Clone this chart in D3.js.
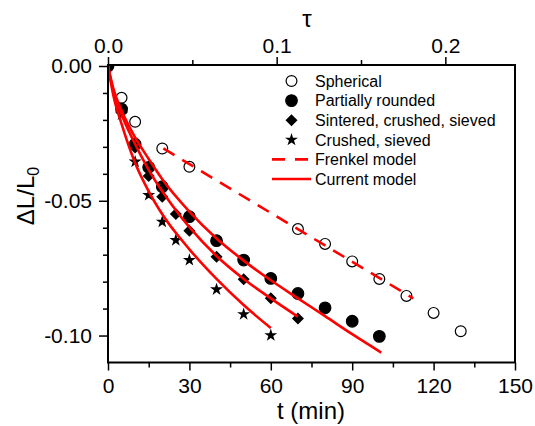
<!DOCTYPE html>
<html>
<head>
<meta charset="utf-8">
<script src="https://cdn.jsdelivr.net/npm/d3@7"></script>
<style>
    body { margin: 0; background: #fff; }
    svg text { font-family: "Liberation Sans", Arial, sans-serif; fill: #000; }
</style>
</head>
<body>
<div id="chart"></div>
<script>
    // measured points, t in minutes, dL/L0
    var sphericalT = [0, 5, 10, 20, 30, 70, 80, 90, 100, 110, 120, 130];
    var sphericalV = [0, -0.0118, -0.0207, -0.0306, -0.0374, -0.0605, -0.0660, -0.0725, -0.0790, -0.0853, -0.0916, -0.0984];

    var roundedT = [0, 5, 10, 15, 20, 30, 40, 50, 60, 70, 80, 90, 100];
    var roundedV = [0, -0.0160, -0.0290, -0.0376, -0.0448, -0.0559, -0.0648, -0.0720, -0.0788, -0.0844, -0.0897, -0.0947, -0.1003];

    var sinteredT = [0, 5, 10, 15, 20, 25, 30, 40, 50, 60, 70];
    var sinteredV = [0, -0.0170, -0.0302, -0.0408, -0.0485, -0.0549, -0.0611, -0.0708, -0.0791, -0.0862, -0.0937];

    var crushedT = [0, 5, 10, 15, 20, 25, 30, 40, 50, 60];
    var crushedV = [0, -0.0180, -0.0355, -0.0479, -0.0578, -0.0646, -0.0720, -0.0829, -0.0921, -0.0999];

    // model curves
    var frenkelT = [20.4, 112.5];
    var frenkelV = [-0.0306, -0.0862];

    var model1T = [0, 2, 5, 10, 15, 20, 30, 40, 50, 60, 70, 80, 90, 100.7];
    var model1V = [0, -0.0085, -0.0165, -0.0265, -0.0345, -0.0420, -0.0540, -0.0640, -0.0722, -0.0795, -0.0862, -0.0928, -0.0995, -0.1063];

    var model2T = [0, 2, 5, 10, 15, 20, 25, 30, 40, 50, 60, 70];
    var model2V = [0, -0.0095, -0.0180, -0.0290, -0.0385, -0.0465, -0.0535, -0.0598, -0.0705, -0.0790, -0.0862, -0.0930];

    var model3T = [0, 2, 5, 10, 15, 20, 30, 40, 50, 60];
    var model3V = [0, -0.0110, -0.0215, -0.0360, -0.0465, -0.0550, -0.0680, -0.0790, -0.0887, -0.0972];

    var xTicks = [0, 30, 60, 90, 120, 150];
    var xMinor = [15, 45, 75, 105, 135];
    var yTicks = [0, -0.05, -0.10];
    var yMinor = [-0.01, -0.02, -0.03, -0.04, -0.06, -0.07, -0.08, -0.09];
    var tauTicks = [0, 0.1, 0.2];
    var tauMinor = [0.05, 0.15];

    var legendLabels = ["Spherical", "Partially rounded", "Sintered, crushed, sieved", "Crushed, sieved", "Frenkel model", "Current model"];

(function() {
    var W = 535, H = 426;
    var pLeft = 108, pRight = 515, pTop = 66, pBottom = 362.5;
    var red = "#ff0000";

    var x = d3.scaleLinear().domain([0, 150]).range([pLeft, pRight]);
    var y = d3.scaleLinear().domain([-0.11, 0]).range([pBottom, pTop]);
    var tau = d3.scaleLinear().domain([0, 0.2413]).range([pLeft, pRight]);

    var svg = d3.select("#chart").append("svg")
        .attr("width", W).attr("height", H);

    svg.append("clipPath").attr("id", "plot-clip")
        .append("rect").attr("x", pLeft).attr("y", pTop)
        .attr("width", pRight - pLeft).attr("height", pBottom - pTop);

    function zip(ts, vs) {
        return ts.map(function(t, i) { return [t, vs[i]]; });
    }

    function axisGroup(axis, tx, ty) {
        var g = svg.append("g").attr("transform", "translate(" + tx + "," + ty + ")").call(axis);
        g.select(".domain").remove();
        g.selectAll(".tick line").attr("stroke", "#000").attr("stroke-width", 1.5);
        g.selectAll(".tick text").style("font-size", "21px").attr("fill", "#000");
        return g;
    }

    // bottom
    axisGroup(d3.axisBottom(x).tickValues(xTicks).tickSize(8).tickPadding(8).tickFormat(d3.format("d")), 0, pBottom);
    axisGroup(d3.axisBottom(x).tickValues(xMinor).tickSize(5).tickFormat(""), 0, pBottom);
    // left
    axisGroup(d3.axisLeft(y).tickValues(yTicks).tickSize(9).tickPadding(7).tickFormat(function(d) { return d.toFixed(2); }), pLeft, 0);
    axisGroup(d3.axisLeft(y).tickValues(yMinor).tickSize(5).tickFormat(""), pLeft, 0);
    // top
    axisGroup(d3.axisTop(tau).tickValues(tauTicks).tickSize(8).tickPadding(4).tickFormat(d3.format(".1f")), 0, pTop - 1);
    axisGroup(d3.axisTop(tau).tickValues(tauMinor).tickSize(5).tickFormat(""), 0, pTop - 1);

    // axis titles
    svg.append("text").attr("x", 311).attr("y", 419)
        .attr("text-anchor", "middle").style("font-size", "24px").text("t (min)");
    svg.append("text").attr("x", 307).attr("y", 27)
        .attr("text-anchor", "middle").style("font-size", "24px").text("\u03c4");
    var yt = svg.append("text")
        .attr("transform", "translate(34,196) rotate(-90)")
        .attr("text-anchor", "middle").style("font-size", "24px");
    yt.append("tspan").text("\u0394L/L");
    yt.append("tspan").attr("dy", 5).style("font-size", "16px").text("0");

    // markers
    var star = d3.symbol().type(d3.symbolStar).size(52);
    var square = d3.symbol().type(d3.symbolSquare).size(72);
    var marks = svg.append("g").attr("clip-path", "url(#plot-clip)");

    function drawCircles(data, filled, r) {
        marks.append("g").selectAll("circle").data(data).enter().append("circle")
            .attr("cx", function(d) { return x(d[0]); })
            .attr("cy", function(d) { return y(d[1]); })
            .attr("r", r)
            .attr("fill", filled ? "#000" : "none")
            .attr("stroke", "#000").attr("stroke-width", 1.2);
    }
    function drawPaths(data, gen, rot) {
        marks.append("g").selectAll("path").data(data).enter().append("path")
            .attr("d", gen)
            .attr("transform", function(d) { return "translate(" + x(d[0]) + "," + y(d[1]) + ") rotate(" + rot + ")"; })
            .attr("fill", "#000");
    }

    drawCircles(zip(sphericalT, sphericalV), false, 5.4);
    drawCircles(zip(roundedT, roundedV), true, 5.8);
    drawPaths(zip(sinteredT, sinteredV), square, 45);
    drawPaths(zip(crushedT, crushedV), star, 0);

    // model lines
    var line = d3.line()
        .x(function(d) { return x(d[0]); })
        .y(function(d) { return y(d[1]); })
        .curve(d3.curveMonotoneX);

    [zip(model1T, model1V), zip(model2T, model2V), zip(model3T, model3V)].forEach(function(m) {
        marks.append("path").datum(m).attr("d", line)
            .attr("fill", "none").attr("stroke", red).attr("stroke-width", 2.6);
    });
    marks.append("path").datum(zip(frenkelT, frenkelV)).attr("d", d3.line()
            .x(function(d) { return x(d[0]); })
            .y(function(d) { return y(d[1]); }))
        .attr("fill", "none").attr("stroke", red).attr("stroke-width", 2.6)
        .attr("stroke-dasharray", "13,9");

    svg.append("rect")
        .attr("x", pLeft).attr("y", pTop - 1)
        .attr("width", pRight - pLeft).attr("height", pBottom - pTop + 1)
        .attr("fill", "none").attr("stroke", "#000").attr("stroke-width", 2);

    // legend
    var lx = 291.5, ly0 = 81, ldy = 19.6;
    var lg = svg.append("g");
    legendLabels.forEach(function(label, i) {
        var cy = ly0 + i * ldy;
        if (i === 0 || i === 1) {
            lg.append("circle").attr("cx", lx).attr("cy", cy).attr("r", i === 0 ? 5.4 : 5.8)
                .attr("fill", i === 0 ? "none" : "#000").attr("stroke", "#000").attr("stroke-width", 1.2);
        } else if (i === 2) {
            lg.append("path").attr("d", square).attr("transform", "translate(" + lx + "," + cy + ") rotate(45)");
        } else if (i === 3) {
            lg.append("path").attr("d", star).attr("transform", "translate(" + lx + "," + cy + ")");
        } else {
            lg.append("line").attr("x1", 272).attr("x2", 311).attr("y1", cy).attr("y2", cy)
                .attr("stroke", red).attr("stroke-width", 2.6)
                .attr("stroke-dasharray", i === 4 ? "13,10" : null);
        }
        lg.append("text").attr("x", 315).attr("y", cy + 5.8).style("font-size", "16px").text(label);
    });
})();
</script>
</body>
</html>
